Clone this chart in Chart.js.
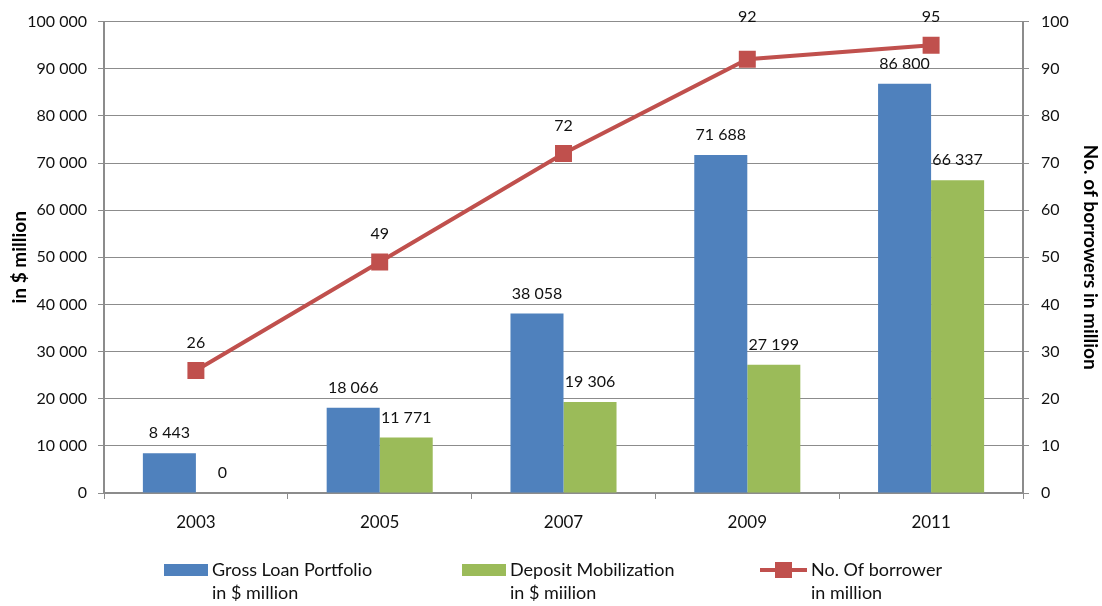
<!DOCTYPE html>
<html lang="en">
<head>
  <meta charset="UTF-8">
  <title>Microfinance growth 2003-2011</title>
  <script src="https://cdn.jsdelivr.net/npm/chart.js@4"></script>
  <style>
    html, body { margin: 0; padding: 0; background: #fff; }
    #wrap { position: relative; width: 1102px; height: 606px; }
  </style>
</head>
<body>
  <div id="wrap"><canvas id="chart"></canvas></div>
  <script>
    // Data
    const years = ['2003', '2005', '2007', '2009', '2011'];
    const grossLoan = [8443, 18066, 38058, 71688, 86800];
    const deposits = [0, 11771, 19306, 27199, 66337];
    const borrowers = [26, 49, 72, 92, 95];

    const BLUE = '#4F81BD';
    const GREEN = '#9BBB59';
    const RED = '#C0504D';
    const GRID = '#8c8c8c';
    const FONT = 'Lato, "Open Sans", sans-serif';

    Chart.defaults.font.family = FONT;
    Chart.defaults.font.size = 16;
    Chart.defaults.color = '#111';

    const fmt = v => String(v).replace(/\B(?=(\d{3})+(?!\d))/g, ' ');

    // value labels above bars and line points
    const valueLabels = {
      id: 'valueLabels',
      afterDatasetsDraw(chart) {
        const ctx = chart.ctx;
        ctx.save();
        ctx.font = '16px ' + FONT;
        ctx.fillStyle = '#111';
        ctx.textAlign = 'center';
        ctx.textBaseline = 'middle';
        chart.data.datasets.forEach((ds, i) => {
          const meta = chart.getDatasetMeta(i);
          meta.data.forEach((el, j) => {
            let lift = 20;
            if (ds.type === 'line') lift = j === 3 ? 42 : 28; // 2009 label sits higher
            ctx.fillText(fmt(ds.data[j]), el.x, el.y - lift);
          });
        });
        ctx.restore();
      }
    };

    // two-line legend under the chart
    const bottomLegend = {
      id: 'bottomLegend',
      afterDraw(chart) {
        const ctx = chart.ctx;
        const items = [
          { x: 164, kind: 'box', color: BLUE, lines: ['Gross Loan Portfolio', 'in $ million'] },
          { x: 462, kind: 'box', color: GREEN, lines: ['Deposit Mobilization', 'in $ miilion'] },
          { x: 760, kind: 'line', color: RED, lines: ['No. Of borrower', 'in million'] }
        ];
        const y = 570;
        ctx.save();
        ctx.font = '18px ' + FONT;
        ctx.textBaseline = 'middle';
        ctx.textAlign = 'left';
        items.forEach(it => {
          if (it.kind === 'box') {
            ctx.fillStyle = it.color;
            ctx.fillRect(it.x, y - 6, 44, 12);
          } else {
            ctx.strokeStyle = it.color;
            ctx.lineWidth = 4;
            ctx.beginPath();
            ctx.moveTo(it.x, y);
            ctx.lineTo(it.x + 47, y);
            ctx.stroke();
            ctx.fillStyle = it.color;
            ctx.fillRect(it.x + 15, y - 8, 17, 16);
          }
          ctx.fillStyle = '#111';
          const tx = it.x + (it.kind === 'box' ? 48 : 51);
          ctx.fillText(it.lines[0], tx, y);
          ctx.fillText(it.lines[1], tx, y + 23);
        });
        ctx.restore();
      }
    };

    new Chart(document.getElementById('chart'), {
      type: 'bar',
      data: {
        labels: years,
        datasets: [
          {
            type: 'line',
            label: 'No. Of borrower in million',
            data: borrowers,
            yAxisID: 'y2',
            borderColor: RED,
            backgroundColor: RED,
            borderWidth: 4,
            pointStyle: 'rect',
            pointRadius: 12,
            pointBorderWidth: 0,
            tension: 0,
            order: 0
          },
          {
            label: 'Gross Loan Portfolio in $ million',
            data: grossLoan,
            backgroundColor: BLUE,
            yAxisID: 'y',
            order: 1
          },
          {
            label: 'Deposit Mobilization in $ miilion',
            data: deposits,
            backgroundColor: GREEN,
            yAxisID: 'y',
            order: 1
          }
        ]
      },
      options: {
        responsive: true,
        maintainAspectRatio: false,
        animation: false,
        layout: { padding: { top: 6, right: 0, bottom: 73, left: 0 } },
        datasets: {
          bar: { categoryPercentage: 0.577, barPercentage: 1 }
        },
        plugins: {
          legend: { display: false },
          tooltip: { enabled: false }
        },
        scales: {
          x: {
            offset: true,
            grid: { offset: true, drawOnChartArea: false, color: GRID, tickLength: 6 },
            border: { color: GRID, width: 2 },
            ticks: { padding: 13, maxRotation: 0, autoSkip: false, font: { size: 17 } },
            afterFit: s => { s.height = 40; }
          },
          y: {
            position: 'left',
            min: 0,
            max: 100000,
            ticks: { stepSize: 10000, padding: 11, callback: v => fmt(v) },
            grid: { color: GRID, tickLength: 6 },
            border: { color: GRID, width: 2 },
            title: {
              display: true,
              text: 'in $ million',
              font: { size: 19, weight: 'bold' },
              color: '#000',
              padding: { top: 8, bottom: 0 }
            },
            afterFit: s => { s.width = 104; }
          },
          y2: {
            position: 'right',
            min: 0,
            max: 100,
            ticks: { stepSize: 10, padding: 12 },
            grid: { drawOnChartArea: false, color: GRID, tickLength: 6 },
            border: { color: GRID, width: 2 },
            title: {
              display: true,
              text: 'No. of borrowers in million',
              font: { size: 19, weight: 'bold' },
              color: '#000',
              padding: { top: 0, bottom: 0 }
            },
            afterFit: s => { s.width = 79; }
          }
        }
      },
      plugins: [valueLabels, bottomLegend]
    });
  </script>
</body>
</html>
